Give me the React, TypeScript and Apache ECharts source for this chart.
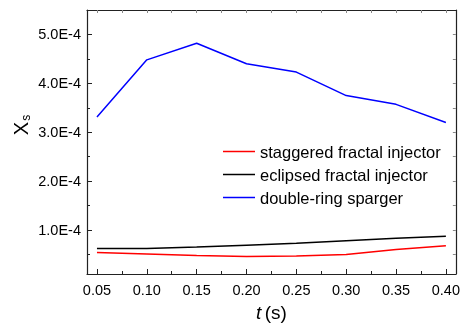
import React, { useEffect, useRef } from "react";
import * as echarts from "echarts";

// Time (s)
const times = [0.05, 0.1, 0.15, 0.2, 0.25, 0.3, 0.35, 0.4];
// X_s values for each injector design
const staggered = [0.54e-4, 0.51e-4, 0.48e-4, 0.46e-4, 0.47e-4, 0.5e-4, 0.6e-4, 0.68e-4];
const eclipsed = [0.62e-4, 0.62e-4, 0.65e-4, 0.69e-4, 0.73e-4, 0.78e-4, 0.83e-4, 0.87e-4];
const doubleRing = [3.31e-4, 4.48e-4, 4.82e-4, 4.4e-4, 4.23e-4, 3.75e-4, 3.57e-4, 3.2e-4];

const seriesNames = ["staggered fractal injector", "eclipsed fractal injector", "double-ring sparger"];
const seriesColors = ["#ff0000", "#000000", "#0000ff"];

// Axis ticks and labels
const xMajor = [0.05, 0.1, 0.15, 0.2, 0.25, 0.3, 0.35, 0.4];
const xMinor = [0.075, 0.125, 0.175, 0.225, 0.275, 0.325, 0.375];
const yMajor = [1e-4, 2e-4, 3e-4, 4e-4, 5e-4];
const yMinor = [0.5e-4, 1.5e-4, 2.5e-4, 3.5e-4, 4.5e-4];

const FONT = "Liberation Sans, Arial, sans-serif";
const AXIS_COLOR = "#222";

const fmtY = (v: number) => {
  const m = v / 1e-4;
  return m.toFixed(1) + "E-4";
};

export default function App() {
  const ref = useRef<HTMLDivElement>(null);

  useEffect(() => {
    if (!ref.current) return;
    const chart = echarts.init(ref.current, undefined, { renderer: "svg" });

    const xBase = { type: "value", min: 0.04, max: 0.41, splitLine: { show: false } };
    const yBase = { type: "value", min: 0.1e-4, max: 5.5e-4, splitLine: { show: false } };
    const hiddenLabel = { show: false };

    const xAxis = [
      {
        ...xBase,
        position: "bottom",
        name: "{i|t} {n|(s)}",
        nameLocation: "middle",
        nameGap: 29,
        nameTextStyle: {
          rich: {
            i: { fontFamily: FONT, fontSize: 19, fontStyle: "italic", color: "#000" },
            n: { fontFamily: FONT, fontSize: 19, color: "#000" },
          },
        },
        axisLine: { show: true, lineStyle: { color: AXIS_COLOR, width: 1.2 } },
        axisTick: { show: true, inside: true, length: 5, customValues: xMajor, lineStyle: { color: AXIS_COLOR } },
        axisLabel: {
          customValues: xMajor,
          formatter: (v: number) => v.toFixed(2),
          fontFamily: FONT,
          fontSize: 14.5,
          color: "#000",
          margin: 8,
        },
      },
      {
        ...xBase,
        position: "bottom",
        axisLine: { show: false },
        axisTick: { show: true, inside: true, length: 3, customValues: xMinor, lineStyle: { color: AXIS_COLOR } },
        axisLabel: hiddenLabel,
      },
      {
        ...xBase,
        position: "top",
        axisLine: { show: true, lineStyle: { color: AXIS_COLOR, width: 1.2 } },
        axisTick: { show: true, inside: true, length: 3, customValues: [...xMajor, ...xMinor], lineStyle: { color: "#888" } },
        axisLabel: hiddenLabel,
      },
    ];

    const yAxis = [
      {
        ...yBase,
        position: "left",
        axisLine: { show: true, lineStyle: { color: AXIS_COLOR, width: 1.2 } },
        axisTick: { show: true, inside: true, length: 5, customValues: yMajor, lineStyle: { color: AXIS_COLOR } },
        axisLabel: {
          customValues: yMajor,
          formatter: fmtY,
          fontFamily: FONT,
          fontSize: 14.5,
          color: "#000",
          margin: 6,
        },
      },
      {
        ...yBase,
        position: "left",
        axisLine: { show: false },
        axisTick: { show: true, inside: true, length: 3, customValues: yMinor, lineStyle: { color: AXIS_COLOR } },
        axisLabel: hiddenLabel,
      },
      {
        ...yBase,
        position: "right",
        axisLine: { show: true, lineStyle: { color: AXIS_COLOR, width: 1.2 } },
        axisTick: { show: true, inside: true, length: 3, customValues: [...yMajor, ...yMinor], lineStyle: { color: "#888" } },
        axisLabel: hiddenLabel,
      },
    ];

    const values = [staggered, eclipsed, doubleRing];

    chart.setOption({
      animation: false,
      grid: { left: 87, top: 10, right: 4, bottom: 42, containLabel: false },
      xAxis,
      yAxis,
      graphic: [
        {
          type: "text",
          x: 21,
          y: 125,
          rotation: Math.PI / 2,
          style: {
            text: "{x|X}{s|s}",
            align: "center",
            verticalAlign: "middle",
            rich: {
              x: { fontFamily: FONT, fontSize: 20, fill: "#000" },
              s: { fontFamily: FONT, fontSize: 12, fill: "#000", padding: [9, 0, 0, 1] },
            },
          },
        },
      ],
      legend: {
        orient: "vertical",
        left: 218,
        top: 138,
        itemWidth: 32,
        itemHeight: 1.5,
        itemGap: 6,
        textStyle: { fontFamily: FONT, fontSize: 16.5, lineHeight: 16, color: "#000" },
        data: seriesNames.map((name, i) => ({
          name,
          icon: "rect",
          itemStyle: { color: seriesColors[i] },
        })),
      },
      series: values.map((vals, i) => ({
        name: seriesNames[i],
        type: "line",
        xAxisIndex: 0,
        yAxisIndex: 0,
        symbol: "none",
        color: seriesColors[i],
        lineStyle: { color: seriesColors[i], width: 1.5 },
        data: times.map((t, j) => [t, vals[j]]),
      })),
    });

    return () => chart.dispose();
  }, []);

  return (
    <div
      ref={ref}
      style={{ position: "fixed", left: 0, top: 0, width: 463, height: 327 }}
    />
  );
}
